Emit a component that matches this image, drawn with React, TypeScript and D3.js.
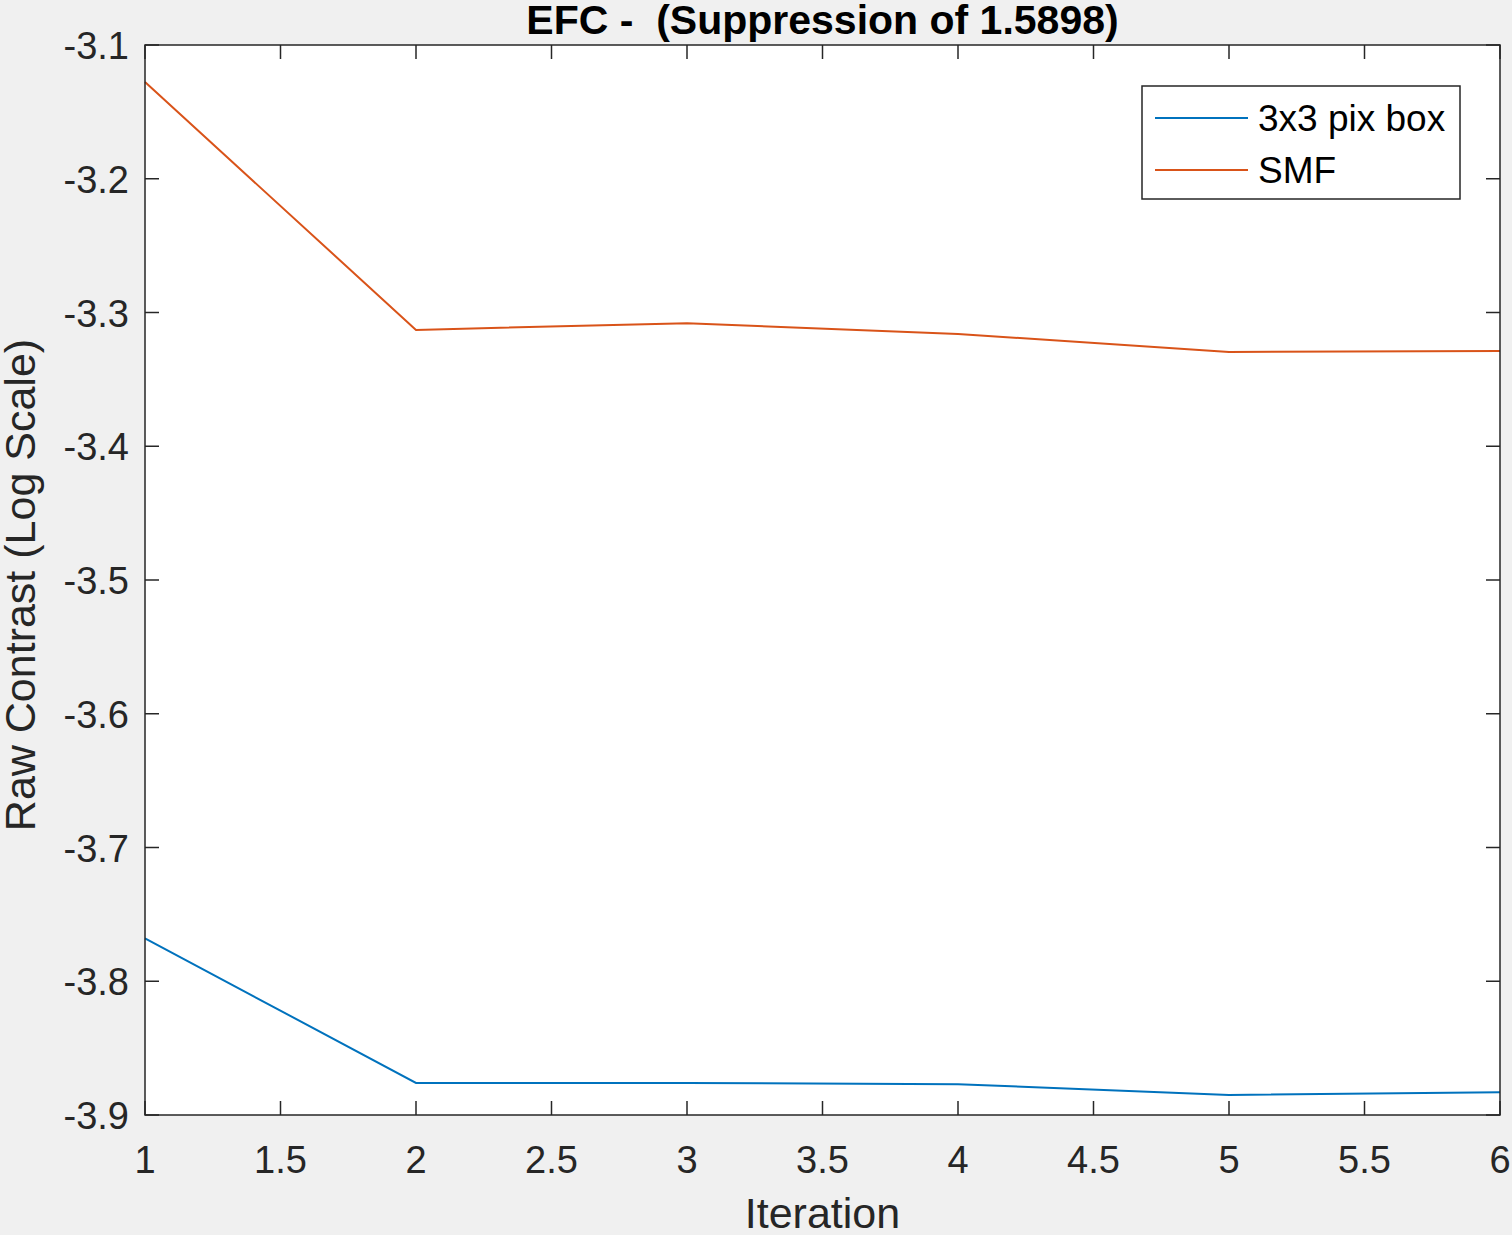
import React, { useRef, useEffect } from "react";
import * as d3 from "d3";

const iterations = [1, 2, 3, 4, 5, 6];
const boxValues = [-3.768, -3.876, -3.876, -3.877, -3.885, -3.883];
const smfValues = [-3.1277, -3.313, -3.308, -3.316, -3.3295, -3.3288];
const xTicks = [1, 1.5, 2, 2.5, 3, 3.5, 4, 4.5, 5, 5.5, 6];
const yTicks = [-3.1, -3.2, -3.3, -3.4, -3.5, -3.6, -3.7, -3.8, -3.9];
const seriesNames = ["3x3 pix box", "SMF"];
const seriesColors = ["#0072BD", "#D95319"];

const W = 1512;
const H = 1235;
const m = { left: 145, right: 1500, top: 45, bottom: 1115 };

export default function App() {
  const ref = useRef<SVGSVGElement>(null);

  useEffect(() => {
    if (!ref.current) return;
    const svg = d3.select(ref.current);
    svg.selectAll("*").remove();
    const font = "Helvetica, Arial, 'Liberation Sans', sans-serif";

    svg.append("rect").attr("width", W).attr("height", H).attr("fill", "#f0f0f0");
    svg.append("rect").attr("x", m.left).attr("y", m.top)
      .attr("width", m.right - m.left).attr("height", m.bottom - m.top).attr("fill", "#fff");

    const x = d3.scaleLinear().domain([1, 6]).range([m.left, m.right]);
    const y = d3.scaleLinear().domain([-3.9, -3.1]).range([m.bottom, m.top]);
    const tick = 14;
    const ax = "#262626";

    const g = svg.append("g");
    xTicks.forEach((t) => {
      g.append("line").attr("x1", x(t)).attr("x2", x(t)).attr("y1", m.bottom).attr("y2", m.bottom - tick).attr("stroke", ax).attr("stroke-width", 1.5);
      g.append("line").attr("x1", x(t)).attr("x2", x(t)).attr("y1", m.top).attr("y2", m.top + tick).attr("stroke", ax).attr("stroke-width", 1.5);
      g.append("text").attr("x", x(t)).attr("y", m.bottom + 58).attr("text-anchor", "middle")
        .attr("font-family", font).attr("font-size", 38).attr("fill", ax).text(String(t));
    });
    yTicks.forEach((t) => {
      g.append("line").attr("x1", m.left).attr("x2", m.left + tick).attr("y1", y(t)).attr("y2", y(t)).attr("stroke", ax).attr("stroke-width", 1.5);
      g.append("line").attr("x1", m.right).attr("x2", m.right - tick).attr("y1", y(t)).attr("y2", y(t)).attr("stroke", ax).attr("stroke-width", 1.5);
      g.append("text").attr("x", m.left - 16).attr("y", y(t) + 14).attr("text-anchor", "end")
        .attr("font-family", font).attr("font-size", 38).attr("fill", ax).text(t.toFixed(1));
    });

    const line = d3.line<number>().x((_, i) => x(iterations[i])).y((d) => y(d));
    [boxValues, smfValues].forEach((vals, i) => {
      svg.append("path").attr("d", line(vals)).attr("fill", "none")
        .attr("stroke", seriesColors[i]).attr("stroke-width", 2);
    });

    svg.append("rect").attr("x", m.left).attr("y", m.top)
      .attr("width", m.right - m.left).attr("height", m.bottom - m.top)
      .attr("fill", "none").attr("stroke", ax).attr("stroke-width", 1.5);

    svg.append("text").attr("x", (m.left + m.right) / 2).attr("y", m.bottom + 113).attr("text-anchor", "middle")
      .attr("font-family", font).attr("font-size", 43).attr("fill", ax).text("Iteration");
    svg.append("text").attr("transform", `translate(35,${(m.top + m.bottom) / 2 + 5}) rotate(-90)`)
      .attr("text-anchor", "middle").attr("font-family", font).attr("font-size", 43).attr("fill", ax)
      .text("Raw Contrast (Log Scale)");
    svg.append("text").attr("x", (m.left + m.right) / 2).attr("y", 34).attr("text-anchor", "middle")
      .attr("xml:space", "preserve").style("white-space", "pre")
      .attr("font-family", font).attr("font-size", 41).attr("font-weight", "bold").attr("fill", "#000")
      .text("EFC -  (Suppression of 1.5898)");

    const lg = svg.append("g");
    lg.append("rect").attr("x", 1142).attr("y", 86).attr("width", 318).attr("height", 113)
      .attr("fill", "#fff").attr("stroke", ax).attr("stroke-width", 1.5);
    seriesNames.forEach((n, i) => {
      const yy = 118 + i * 52;
      lg.append("line").attr("x1", 1155).attr("x2", 1248).attr("y1", yy).attr("y2", yy)
        .attr("stroke", seriesColors[i]).attr("stroke-width", 2);
      lg.append("text").attr("x", 1258).attr("y", yy + 13).attr("font-family", font)
        .attr("font-size", 37).attr("fill", "#000").text(n);
    });
  }, []);

  return (
    <svg ref={ref} width={W} height={H}
      style={{ position: "absolute", left: 0, top: 0, display: "block" }} />
  );
}
